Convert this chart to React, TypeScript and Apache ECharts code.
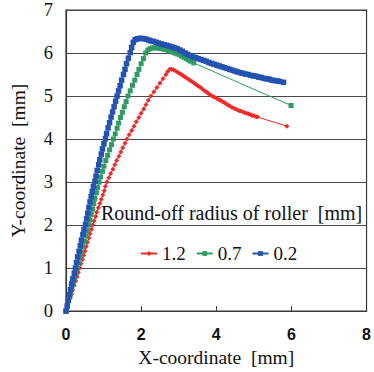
import React, { useEffect, useRef } from "react";
import * as echarts from "echarts";

const xTicks = [0, 2, 4, 6, 8];
const yTicks = [0, 1, 2, 3, 4, 5, 6, 7];
const legendTitle = "Round-off radius of roller  [mm]";
const seriesNames = ["1.2", "0.7", "0.2"];

// radius 1.2 mm
const r12: number[][] = [
  [0.00, 0.00], [0.04, 0.10], [0.07, 0.20], [0.11, 0.30], [0.15, 0.40], [0.18, 0.50], [0.22, 0.60], [0.26, 0.70],
  [0.30, 0.80], [0.33, 0.90], [0.37, 1.00], [0.40, 1.10], [0.44, 1.20], [0.47, 1.30], [0.51, 1.40], [0.54, 1.50],
  [0.57, 1.60], [0.61, 1.70], [0.64, 1.80], [0.68, 1.90], [0.71, 2.00], [0.75, 2.10], [0.79, 2.20], [0.82, 2.30],
  [0.86, 2.40], [0.90, 2.50], [0.94, 2.60], [0.98, 2.70], [1.02, 2.80], [1.05, 2.90], [1.09, 3.00], [1.14, 3.10],
  [1.19, 3.20], [1.25, 3.30], [1.30, 3.40], [1.35, 3.50], [1.41, 3.60], [1.46, 3.70], [1.51, 3.80], [1.57, 3.90],
  [1.62, 4.00], [1.68, 4.10], [1.75, 4.20], [1.81, 4.30], [1.87, 4.40], [1.94, 4.50], [2.00, 4.60], [2.07, 4.70],
  [2.13, 4.80], [2.19, 4.90], [2.26, 5.00], [2.34, 5.10], [2.42, 5.20], [2.50, 5.30], [2.58, 5.40], [2.66, 5.50],
  [2.71, 5.57], [2.76, 5.62], [2.81, 5.62], [2.86, 5.61], [2.91, 5.59], [2.96, 5.56], [3.01, 5.53], [3.06, 5.51],
  [3.11, 5.48], [3.16, 5.45], [3.21, 5.42], [3.26, 5.39], [3.31, 5.36], [3.36, 5.33], [3.41, 5.30], [3.46, 5.27],
  [3.51, 5.24], [3.56, 5.21], [3.61, 5.18], [3.66, 5.14], [3.71, 5.11], [3.76, 5.08], [3.81, 5.05], [3.86, 5.02],
  [3.91, 4.99], [3.96, 4.97], [4.01, 4.95], [4.06, 4.92], [4.11, 4.90], [4.16, 4.87], [4.21, 4.85], [4.26, 4.82],
  [4.31, 4.79], [4.36, 4.77], [4.41, 4.74], [4.46, 4.72], [4.51, 4.70], [4.56, 4.68], [4.61, 4.66], [4.66, 4.65],
  [4.71, 4.63], [4.76, 4.61], [4.81, 4.60], [4.86, 4.58], [4.91, 4.57], [4.96, 4.55], [5.01, 4.54], [5.06, 4.52],
  [5.10, 4.51], [5.88, 4.30],
];

// radius 0.7 mm
const r07: number[][] = [
  [0.00, 0.00], [0.04, 0.12], [0.07, 0.25], [0.11, 0.37], [0.15, 0.50], [0.19, 0.62], [0.22, 0.75], [0.26, 0.87],
  [0.30, 1.00], [0.34, 1.12], [0.37, 1.25], [0.41, 1.37], [0.45, 1.50], [0.49, 1.62], [0.53, 1.75], [0.57, 1.87],
  [0.61, 2.00], [0.64, 2.12], [0.67, 2.25], [0.71, 2.37], [0.74, 2.50], [0.77, 2.62], [0.81, 2.75], [0.84, 2.87],
  [0.88, 3.00], [0.92, 3.12], [0.97, 3.25], [1.01, 3.37], [1.06, 3.50], [1.11, 3.62], [1.16, 3.75], [1.21, 3.87],
  [1.26, 4.00], [1.31, 4.12], [1.36, 4.25], [1.40, 4.37], [1.45, 4.50], [1.50, 4.62], [1.55, 4.75], [1.60, 4.87],
  [1.65, 5.00], [1.71, 5.12], [1.77, 5.25], [1.83, 5.37], [1.89, 5.50], [1.94, 5.62], [2.00, 5.75], [2.06, 5.87],
  [2.12, 6.00], [2.18, 6.07], [2.24, 6.10], [2.30, 6.12], [2.36, 6.12], [2.42, 6.12], [2.48, 6.11], [2.54, 6.10],
  [2.60, 6.09], [2.66, 6.08], [2.72, 6.06], [2.78, 6.04], [2.84, 6.02], [2.90, 6.00], [2.96, 5.98], [3.02, 5.96],
  [3.08, 5.93], [3.14, 5.90], [3.20, 5.87], [3.26, 5.84], [3.32, 5.81], [3.40, 5.77], [5.99, 4.78],
];

// radius 0.2 mm
const r02: number[][] = [
  [0.00, 0.00], [0.03, 0.12], [0.06, 0.25], [0.09, 0.38], [0.12, 0.50], [0.15, 0.63], [0.18, 0.75], [0.22, 0.88],
  [0.25, 1.00], [0.28, 1.13], [0.31, 1.26], [0.35, 1.39], [0.38, 1.52], [0.41, 1.65], [0.45, 1.78], [0.48, 1.90],
  [0.52, 2.02], [0.55, 2.15], [0.58, 2.28], [0.61, 2.41], [0.64, 2.54], [0.67, 2.66], [0.70, 2.78], [0.73, 2.90],
  [0.77, 3.02], [0.80, 3.14], [0.83, 3.27], [0.87, 3.40], [0.90, 3.52], [0.94, 3.65], [0.97, 3.77], [1.01, 3.89],
  [1.05, 4.01], [1.08, 4.13], [1.12, 4.26], [1.16, 4.38], [1.20, 4.51], [1.24, 4.63], [1.28, 4.75], [1.32, 4.88],
  [1.36, 5.00], [1.40, 5.12], [1.44, 5.24], [1.48, 5.37], [1.53, 5.50], [1.57, 5.62], [1.61, 5.75], [1.66, 5.88],
  [1.71, 6.01], [1.75, 6.13], [1.79, 6.25], [1.84, 6.31], [1.90, 6.33], [1.96, 6.34], [2.02, 6.34], [2.08, 6.33],
  [2.14, 6.32], [2.20, 6.30], [2.26, 6.28], [2.33, 6.27], [2.40, 6.25], [2.47, 6.23], [2.54, 6.21], [2.61, 6.19],
  [2.68, 6.18], [2.75, 6.16], [2.82, 6.14], [2.89, 6.12], [2.96, 6.10], [3.03, 6.07], [3.10, 6.04], [3.17, 6.00],
  [3.24, 5.97], [3.31, 5.94], [3.38, 5.91], [3.45, 5.89], [3.52, 5.87], [3.59, 5.85], [3.66, 5.83], [3.73, 5.81],
  [3.80, 5.78], [3.87, 5.76], [3.94, 5.74], [4.01, 5.72], [4.08, 5.70], [4.15, 5.68], [4.22, 5.66], [4.29, 5.64],
  [4.36, 5.62], [4.43, 5.60], [4.50, 5.58], [4.57, 5.56], [4.64, 5.54], [4.71, 5.53], [4.78, 5.51], [4.85, 5.50],
  [4.92, 5.48], [4.99, 5.47], [5.06, 5.46], [5.13, 5.44], [5.20, 5.43], [5.27, 5.41], [5.34, 5.40], [5.41, 5.39],
  [5.48, 5.37], [5.55, 5.36], [5.62, 5.35], [5.69, 5.34], [5.79, 5.32],
];

const SERIF = "'Liberation Serif', 'Times New Roman', serif";
const SANS = "'Liberation Sans', Arial, sans-serif";

export default function App() {
  const ref = useRef<HTMLDivElement>(null);
  useEffect(() => {
    document.body.style.margin = "0";
    if (!ref.current) return;
    const chart = echarts.init(ref.current, null, { renderer: "svg" });
    const colors = ["#ee2b2b", "#2f9a63", "#2352b0"];
    const datas = [r12, r07, r02];
    const symbols = ["diamond", "rect", "rect"];
    const sizes = [5, 5, 5.5];
    chart.setOption({
      animation: false,
      backgroundColor: "#ffffff",
      title: {
        text: legendTitle,
        left: 101,
        top: 203,
        padding: 0,
        textStyle: { fontFamily: SERIF, fontSize: 20, fontWeight: "normal", color: "#111" },
      },
      legend: {
        left: 140,
        top: 244,
        padding: 0,
        itemWidth: 16,
        itemHeight: 6,
        itemGap: 10,
        data: seriesNames,
        textStyle: { fontFamily: SERIF, fontSize: 19, color: "#111" },
      },
      grid: {
        left: 61,
        top: 10,
        width: 307,
        height: 305,
        show: true,
        borderColor: "#3a3a3a",
        borderWidth: 1.2,
      },
      xAxis: {
        type: "value",
        min: xTicks[0],
        max: xTicks[xTicks.length - 1],
        interval: 2,
        name: "X-coordinate  [mm]",
        nameLocation: "middle",
        nameGap: 33,
        nameTextStyle: { fontFamily: SERIF, fontSize: 19.5, color: "#111" },
        axisLine: { show: true, lineStyle: { color: "#3a3a3a", width: 1.2 } },
        axisTick: { show: true, inside: true, length: 5, lineStyle: { color: "#3a3a3a" } },
        axisLabel: { fontFamily: SANS, fontSize: 16, fontWeight: 600, color: "#111", margin: 15 },
        splitLine: { show: false },
      },
      yAxis: {
        type: "value",
        min: yTicks[0],
        max: yTicks[yTicks.length - 1],
        interval: 1,
        name: "Y-coordinate  [mm]",
        nameLocation: "middle",
        nameGap: 38,
        nameTextStyle: { fontFamily: SERIF, fontSize: 19.5, color: "#111" },
        axisLine: { show: true, lineStyle: { color: "#3a3a3a", width: 1.2 } },
        axisTick: { show: false },
        axisLabel: { fontFamily: SERIF, fontSize: 18.5, color: "#111", margin: 13 },
        splitLine: { show: true, lineStyle: { color: "#4a4a4a", width: 1.2 } },
      },
      series: seriesNames.map((n, i) => ({
        name: n,
        type: "line",
        data: datas[i],
        symbol: symbols[i],
        symbolSize: sizes[i],
        showSymbol: true,
        showAllSymbol: true,
        itemStyle: { color: colors[i] },
        lineStyle: { color: colors[i], width: 1 },
        z: 2 + i,
      })),
    });
    return () => chart.dispose();
  }, []);
  return <div ref={ref} style={{ width: 374, height: 372 }} />;
}
